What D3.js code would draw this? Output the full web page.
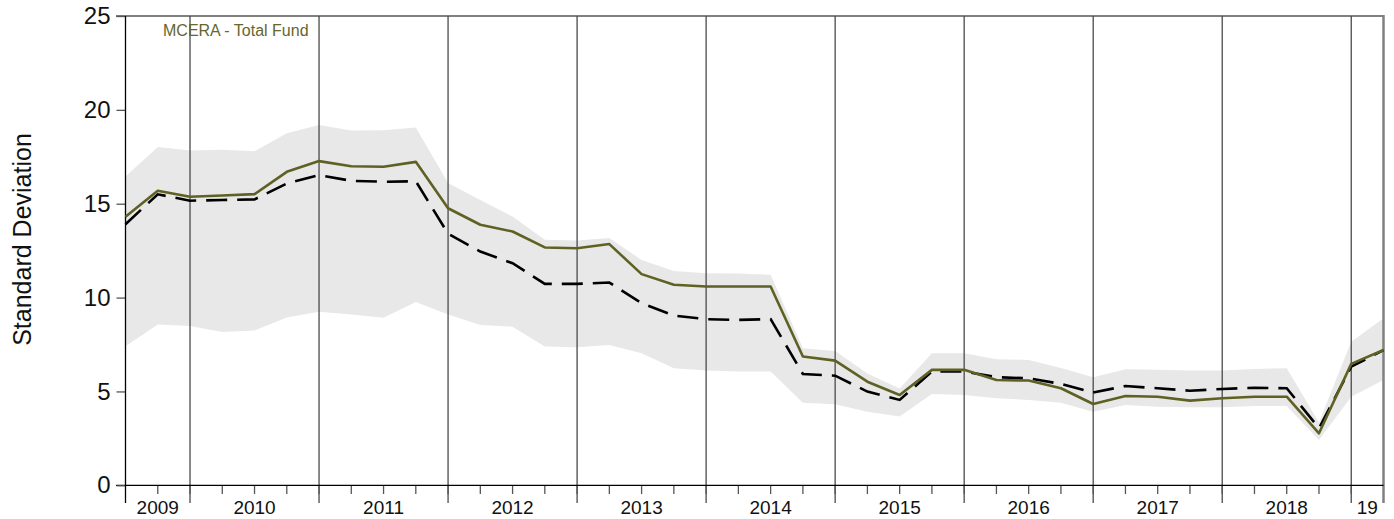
<!DOCTYPE html>
<html>
<head>
<meta charset="utf-8">
<script src="https://cdn.jsdelivr.net/npm/d3@7"></script>
<style>
  html, body { margin: 0; padding: 0; background: #fff; }
  svg { display: block; font-family: "Liberation Sans", Arial, sans-serif; }
</style>
</head>
<body>
<svg id="chart" width="1394" height="519"></svg>
<script>
// ---- data ----
const quarters = [
  "2009-06","2009-09","2009-12",
  "2010-03","2010-06","2010-09","2010-12",
  "2011-03","2011-06","2011-09","2011-12",
  "2012-03","2012-06","2012-09","2012-12",
  "2013-03","2013-06","2013-09","2013-12",
  "2014-03","2014-06","2014-09","2014-12",
  "2015-03","2015-06","2015-09","2015-12",
  "2016-03","2016-06","2016-09","2016-12",
  "2017-03","2017-06","2017-09","2017-12",
  "2018-03","2018-06","2018-09","2018-12",
  "2019-03"
];
const fundValues = [
  14.30, 15.69, 15.37,
  15.44, 15.51, 16.70, 17.27,
  17.00, 16.97, 17.23, 14.76,
  13.88, 13.52, 12.67, 12.63,
  12.85, 11.25, 10.68, 10.59,
  10.59, 10.59, 6.86, 6.64,
  5.52, 4.81, 6.15, 6.15,
  5.61, 5.58, 5.17, 4.33,
  4.76, 4.72, 4.51, 4.64,
  4.72, 4.72, 2.77, 6.47,
  7.21
];
const medianValues = [
  13.91, 15.50, 15.16,
  15.20, 15.23, 16.08, 16.52,
  16.22, 16.17, 16.20, 13.40,
  12.45, 11.83, 10.73, 10.73,
  10.80, 9.70, 9.04, 8.85,
  8.81, 8.85, 5.93, 5.84,
  4.99, 4.55, 6.06, 6.06,
  5.76, 5.70, 5.40, 4.94,
  5.29, 5.17, 5.04, 5.13,
  5.20, 5.17, 3.04, 6.32,
  7.20
];
const bandUpper = [
  16.45, 18.02, 17.84,
  17.87, 17.80, 18.76, 19.20,
  18.90, 18.92, 19.06, 16.10,
  15.20, 14.32, 13.08, 13.04,
  13.17, 12.00, 11.42, 11.30,
  11.28, 11.21, 7.30, 7.16,
  5.95, 5.15, 7.04, 7.04,
  6.72, 6.68, 6.25, 5.76,
  6.18, 6.15, 6.11, 6.11,
  6.20, 6.24, 3.35, 7.65,
  8.90
];
const bandLower = [
  7.41, 8.56, 8.49,
  8.17, 8.24, 8.94, 9.24,
  9.10, 8.92, 9.77, 9.10,
  8.54, 8.45, 7.39, 7.36,
  7.48, 7.04, 6.24, 6.11,
  6.06, 6.06, 4.40, 4.32,
  3.92, 3.66, 4.87, 4.81,
  4.64, 4.55, 4.40, 3.92,
  4.28, 4.19, 4.16, 4.16,
  4.23, 4.23, 2.41, 4.72,
  5.61
];
// year labels with the first and last quarter index of each year's span
const yearLabels = ["2009","2010","2011","2012","2013","2014","2015","2016","2017","2018","19"];
const yearSpanStart = [0, 2, 6, 10, 14, 18, 22, 26, 30, 34, 38];
const yearSpanEnd   = [2, 6, 10, 14, 18, 22, 26, 30, 34, 38, 39];
const yTicks = [0, 5, 10, 15, 20, 25];
const seriesName = "MCERA - Total Fund";
const yTitle = "Standard Deviation";

// ---- layout ----
const plotL = 125.5, plotR = 1383.5, plotT = 16, plotB = 485.3;
const svg = d3.select("#chart");

const x = d3.scalePoint().domain(quarters).range([plotL, plotR]);
const y = d3.scaleLinear().domain([0, 25]).range([plotB, plotT]);

const rows = quarters.map((q, i) => ({
  q, fund: fundValues[i], med: medianValues[i], hi: bandUpper[i], lo: bandLower[i]
}));

// band
svg.append("path")
  .datum(rows)
  .attr("fill", "#e8e8e8")
  .attr("d", d3.area().x(d => x(d.q)).y0(d => y(d.lo)).y1(d => y(d.hi)));

// top border
svg.append("line")
  .attr("x1", 116).attr("x2", plotR).attr("y1", plotT).attr("y2", plotT)
  .attr("stroke", "#808080").attr("stroke-width", 2);

// year dividers
const dividerIdx = yearSpanEnd.slice(0, yearSpanEnd.length - 1);
svg.append("g").selectAll("line")
  .data(dividerIdx)
  .join("line")
  .attr("x1", i => x(quarters[i])).attr("x2", i => x(quarters[i]))
  .attr("y1", plotT).attr("y2", 503)
  .attr("stroke", "#4a4a4a").attr("stroke-width", 1.3);

// right border
svg.append("line")
  .attr("x1", plotR).attr("x2", plotR).attr("y1", plotT - 1).attr("y2", 503)
  .attr("stroke", "#808080").attr("stroke-width", 2.5);

// x axis minor ticks
svg.append("g").selectAll("line")
  .data(quarters.slice(1, quarters.length - 1))
  .join("line")
  .attr("x1", q => x(q)).attr("x2", q => x(q))
  .attr("y1", plotB).attr("y2", 494)
  .attr("stroke", "#555").attr("stroke-width", 1.3);

// x axis line
svg.append("line")
  .attr("x1", 116).attr("x2", plotR).attr("y1", plotB).attr("y2", plotB)
  .attr("stroke", "#000").attr("stroke-width", 1.3);

// y axis
const yAxis = svg.append("g")
  .attr("transform", `translate(${plotL},0)`)
  .call(d3.axisLeft(y).tickValues(yTicks).tickSize(9).tickPadding(6));
yAxis.select(".domain").remove();
yAxis.selectAll(".tick line").attr("stroke", "#555").attr("stroke-width", 1.3);
yAxis.selectAll(".tick text")
  .attr("font-size", 24).attr("fill", "#111")
  .attr("font-family", "Liberation Sans, Arial, sans-serif");

// left axis line
svg.append("line")
  .attr("x1", plotL).attr("x2", plotL).attr("y1", plotT).attr("y2", 503)
  .attr("stroke", "#000").attr("stroke-width", 1.3);

// year labels
svg.append("g").selectAll("text")
  .data(yearLabels)
  .join("text")
  .attr("x", (d, i) => (x(quarters[yearSpanStart[i]]) + x(quarters[yearSpanEnd[i]])) / 2)
  .attr("y", 514)
  .attr("text-anchor", "middle")
  .attr("font-size", 19)
  .attr("fill", "#111")
  .text(d => d);

// median dashed line
svg.append("path")
  .datum(rows)
  .attr("fill", "none")
  .attr("stroke", "#000")
  .attr("stroke-width", 2.6)
  .attr("stroke-dasharray", "21,10")
  .attr("d", d3.line().x(d => x(d.q)).y(d => y(d.med)));

// fund line
svg.append("path")
  .datum(rows)
  .attr("fill", "none")
  .attr("stroke", "#5f6023")
  .attr("stroke-width", 2.6)
  .attr("stroke-linejoin", "round")
  .attr("d", d3.line().x(d => x(d.q)).y(d => y(d.fund)));

// legend text
svg.append("text")
  .attr("x", 163).attr("y", 36)
  .attr("font-size", 16)
  .attr("fill", "#66662e")
  .text(seriesName);

// y title
svg.append("text")
  .attr("transform", "translate(31,239.5) rotate(-90)")
  .attr("text-anchor", "middle")
  .attr("font-size", 25)
  .attr("fill", "#111")
  .text(yTitle);
</script>
</body>
</html>
